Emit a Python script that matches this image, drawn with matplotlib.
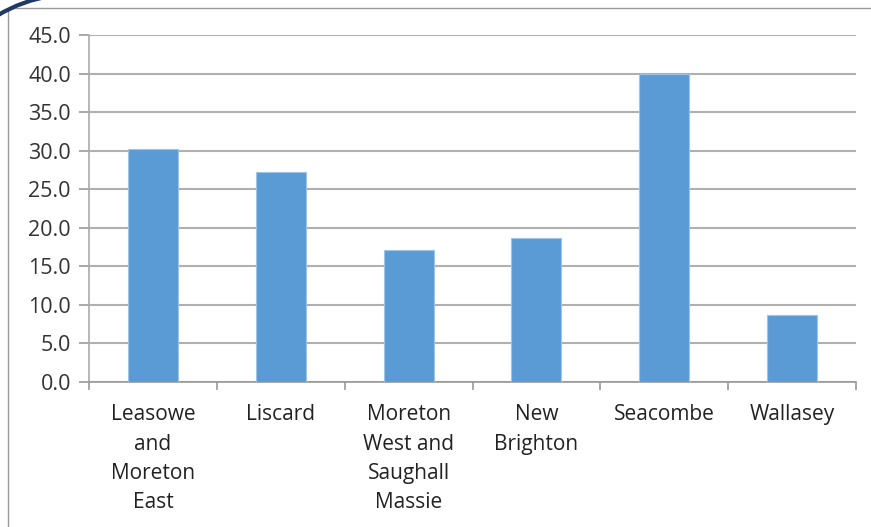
import matplotlib
matplotlib.use("Agg")
import matplotlib.pyplot as plt
from matplotlib.patches import Rectangle, Arc

areas = ["Leasowe\nand\nMoreton\nEast", "Liscard", "Moreton\nWest and\nSaughall\nMassie",
         "New\nBrighton", "Seacombe", "Wallasey"]
values = [30.2, 27.2, 17.1, 18.7, 40.0, 8.7]
yticks = [0, 5, 10, 15, 20, 25, 30, 35, 40, 45]

plt.rcParams['font.family'] = ['Open Sans', 'DejaVu Sans']

W, H = 871, 527
fig = plt.figure(figsize=(W / 100, H / 100), dpi=100)
ax = fig.add_axes([89 / W, 1 - 382 / H, (856 - 89) / W, (382 - 35) / H])

x = list(range(len(areas)))
ax.bar(x, values, width=0.39, color="#5b9bd5", edgecolor="#9dc3e6", linewidth=0.8, zorder=3)

ax.set_xlim(-0.5, len(areas) - 0.5)
ax.set_ylim(0, 45)
ax.set_yticks(yticks)
ax.set_yticklabels(["%.1f" % v for v in yticks], fontsize=15.5, color="#333333")
ax.yaxis.grid(True, color="#b0b0b0", linewidth=1.5, zorder=0)

ax.set_xticks([i + 0.5 for i in range(-1, len(areas))], minor=False)
ax.set_xticklabels([])
ax.set_xticks(x, minor=True)
ax.set_xticklabels(areas, minor=True, fontsize=15, color="#222222", linespacing=1.52)
ax.tick_params(axis="x", which="minor", length=0, pad=16)
ax.tick_params(axis="x", which="major", length=6, color="#999999", width=1.2)
ax.tick_params(axis="y", length=7, color="#999999", width=1.2, pad=6)

for s in ["top", "right"]:
    ax.spines[s].set_visible(False)
ax.spines["left"].set_color("#aaaaaa")
ax.spines["bottom"].set_color("#999999")
ax.spines["left"].set_linewidth(1.2)
ax.spines["bottom"].set_linewidth(1.2)

# chart border and corner decoration
fig.patches.append(Rectangle((8 / W, -0.05), 1.0, 1 - 8 / H + 0.05, transform=fig.transFigure,
                             fill=False, edgecolor="#9a9a9a", linewidth=1.0))
r = 144.5
fig.patches.append(Arc((72.5 / W, 1 - 139 / H), 2 * r / W, 2 * r / H, theta1=95, theta2=130,
                       transform=fig.transFigure, color="#1f3864", linewidth=3))

fig.savefig("out.png", dpi=100)
